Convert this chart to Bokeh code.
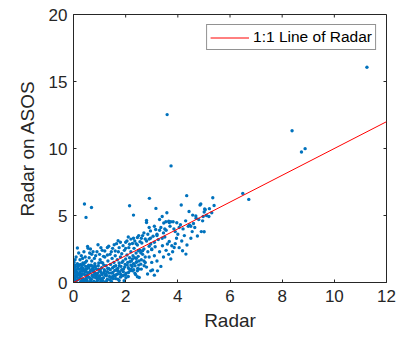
from bokeh.plotting import figure
from bokeh.models import LinearAxis, Label, Range1d
from bokeh.embed import file_html
from bokeh.resources import INLINE

# ---------------- data ----------------
radar = [
    # dense core near origin
    0.02, 0.03, 0.05, 0.02, 0.04, 0.03, 0.05, 0.02, 0.06, 0.08, 0.10, 0.12, 0.10, 0.15, 0.18, 0.20, 0.15, 0.22, 0.25, 0.28,
    0.30, 0.32, 0.35, 0.38, 0.40, 0.42, 0.45, 0.48, 0.50, 0.52, 0.55, 0.58, 0.60, 0.62, 0.65, 0.68, 0.70, 0.72, 0.75, 0.78,
    0.80, 0.82, 0.85, 0.88, 0.90, 0.92, 0.95, 0.98, 1.00, 1.02, 1.05, 1.08, 1.10, 1.12, 1.15, 1.18, 1.20, 1.22, 1.25, 1.28,
    1.30, 1.32, 1.35, 1.38, 1.40, 1.42, 1.45, 1.48, 1.50, 1.52, 1.55, 1.58, 1.60, 1.62, 1.65, 1.68, 1.70, 1.72, 1.75, 1.78,
    1.80, 1.82, 1.85, 1.88, 1.90, 1.92, 1.95, 1.98, 2.00, 2.02, 2.05, 2.08, 2.10, 2.12, 2.15, 2.18, 2.20, 2.22, 2.25, 2.28,
    2.30, 2.32, 2.35, 2.38, 2.40, 2.42, 2.45, 2.48, 2.50, 2.55, 2.60, 2.62, 2.65, 2.70, 2.75, 2.80, 2.85, 2.90, 2.95, 3.00,
    0.07, 0.13, 0.17, 0.23, 0.27, 0.33, 0.37, 0.43, 0.47, 0.53, 0.57, 0.63, 0.67, 0.73, 0.77, 0.83, 0.87, 0.93, 0.97, 1.03,
    0.04, 0.09, 0.14, 0.19, 0.24, 0.29, 0.34, 0.39, 0.44, 0.49, 0.54, 0.59, 0.64, 0.69, 0.74, 0.79, 0.84, 0.89, 1.07, 1.17,
    0.06, 0.11, 0.16, 0.21, 0.26, 0.31, 0.36, 0.41, 0.46, 0.51, 0.56, 0.61, 0.66, 0.71, 0.76, 0.81, 0.86, 0.91, 0.96, 1.01,
    1.06, 1.11, 1.16, 1.21, 1.26, 1.31, 1.36, 1.41, 1.46, 1.51, 1.56, 1.61, 1.66, 1.71, 1.76, 1.81, 1.86, 1.91, 1.96, 2.01,
    2.06, 2.11, 2.16, 2.21, 2.26, 2.31, 2.36, 2.41, 2.46, 2.51,
    # above-line band
    0.10, 0.20, 0.25, 0.35, 0.40, 0.50, 0.60, 0.65, 0.70, 0.80, 0.90, 1.00, 1.05, 1.15, 1.20, 1.30, 1.35, 1.45, 1.50, 1.60,
    1.65, 1.75, 1.80, 1.90, 2.00, 2.05, 2.15, 2.30, 2.40, 2.55, 2.65, 2.75, 2.85, 2.95, 3.05, 3.15, 3.25, 3.35, 3.45, 3.55,
    3.70, 3.85, 4.05, 4.30, 4.45, 4.65, 4.70, 4.95, 5.10, 5.30, 4.25, 4.55, 3.95,
    # above-line spread
    0.15, 0.30, 0.45, 0.54, 0.56, 0.62, 0.75, 0.85, 0.94, 1.10, 1.30, 1.56, 1.71, 2.20, 2.26, 2.00, 2.10, 2.35, 2.45, 2.50,
    2.60, 2.70, 2.80, 2.90, 2.90, 2.96, 3.00, 3.13, 3.20, 3.30, 3.41, 3.50, 3.60, 3.67, 3.67, 3.77, 3.86, 3.90, 4.00, 4.18,
    4.31, 3.73, 4.75, 5.01, 4.90, 4.20, 4.40, 4.60, 4.80, 3.40, 3.10, 3.30, 3.10, 3.50, 3.20, 4.50,
    # below-line spread
    0.50, 0.80, 1.05, 1.30, 1.50, 1.69, 1.94, 2.13, 2.26, 2.45, 2.45, 2.52, 2.52, 2.58, 2.58, 2.49, 2.65, 2.71, 2.75, 2.84,
    2.96, 3.03, 3.22, 1.10, 1.40, 1.60, 1.80, 2.00, 1.20, 0.90, 1.75,
    1.00, 1.25, 1.45, 1.55, 1.70, 1.85, 1.95, 2.10, 2.20, 2.35, 2.40, 2.60, 2.70, 2.80, 2.90, 3.00, 3.10, 3.20, 3.30, 3.45,
    3.55, 3.65, 3.80, 3.90, 4.05, 4.15, 4.35, 4.50, 3.35, 3.10,
    # upper outliers
    0.42, 0.48, 0.69, 2.15, 2.30, 2.91, 3.16, 4.34, 4.13, 4.85, 4.43, 4.57, 4.69, 3.58, 3.40, 2.80, 3.65, 3.73, 3.54, 3.82,
    3.96, 3.46, 4.10, 5.03, 5.34, 6.49, 6.72, 5.39, 4.88, 5.21, 5.05, 5.01, 5.19, 4.97, 3.59, 3.74, 8.38, 8.74, 8.88, 11.25,
]
radar_on_asos = [
    0.10, 0.30, 0.50, 0.70, 0.90, 1.10, 1.30, 1.50, 1.70, 1.20, 0.80, 0.40, 0.05, 0.20, 0.60, 1.00, 1.40, 0.30, 0.80, 0.10,
    0.50, 1.20, 0.25, 0.90, 0.05, 0.60, 1.50, 0.30, 1.00, 0.15, 0.70, 1.30, 0.40, 0.05, 0.90, 0.25, 1.60, 0.55, 1.10, 0.10,
    0.75, 1.40, 0.35, 1.00, 0.60, 0.15, 1.25, 0.45, 0.85, 1.70, 0.20, 1.10, 0.60, 1.45, 0.35, 0.95, 1.90, 0.55, 1.25, 0.15,
    0.80, 1.60, 1.05, 0.45, 2.10, 1.35, 0.70, 1.80, 1.10, 0.30, 1.50, 0.90, 2.00, 1.25, 0.60, 1.70, 1.05, 2.30, 1.45, 0.80,
    1.90, 1.20, 2.15, 0.50, 1.60, 1.00, 2.40, 1.35, 1.75, 0.70, 2.05, 1.50, 1.10, 2.60, 1.85, 0.90, 2.30, 1.60, 1.20, 2.00,
    1.40, 2.55, 1.85, 0.60, 2.20, 1.55, 2.80, 1.95, 1.30, 2.40, 1.70, 2.95, 2.10, 2.50, 1.90, 3.10, 2.30, 2.70, 3.30, 2.45,
    0.85, 0.45, 1.15, 0.65, 1.35, 0.15, 1.05, 0.80, 1.20, 0.40, 1.10, 0.75, 1.30, 0.50, 0.95, 1.15, 0.50, 0.70, 1.45, 0.95,
    0.40, 0.95, 0.75, 1.25, 0.55, 1.05, 0.65, 1.35, 0.20, 0.80, 0.45, 1.10, 0.30, 1.25, 0.85, 0.55, 1.20, 0.35, 1.50, 0.75,
    0.20, 0.60, 1.00, 1.30, 0.45, 0.85, 1.45, 0.20, 0.95, 0.55, 1.20, 0.75, 0.10, 1.00, 0.40, 1.25, 0.65, 0.30, 1.00, 0.50,
    0.75, 0.15, 1.30, 0.85, 0.50, 1.05, 0.70, 0.95, 0.35, 0.75, 1.20, 0.30, 1.00, 0.65, 1.25, 0.60, 1.50, 0.80, 1.15, 0.35,
    1.30, 0.75, 1.55, 1.00, 1.75, 0.95, 1.25, 1.80, 1.05, 1.60,
    1.90, 2.20, 1.70, 1.80, 2.30, 1.60, 1.85, 2.50, 2.10, 1.80, 2.30, 2.10, 2.60, 1.95, 2.35, 2.05, 2.70, 2.30, 2.55, 2.35,
    2.90, 2.60, 3.00, 2.75, 2.55, 3.10, 2.85, 3.30, 2.90, 3.05, 3.50, 3.25, 3.60, 3.85, 3.45, 3.95, 3.20, 4.10, 3.70, 3.90,
    4.20, 4.00, 4.10, 4.60, 4.30, 4.10, 4.80, 4.60, 5.00, 5.20, 3.50, 3.80, 3.30,
    2.57, 2.00, 1.90, 2.69, 2.55, 2.20, 2.30, 2.00, 2.82, 2.40, 2.61, 2.82, 3.12, 3.24, 2.91, 3.00, 3.40, 3.10, 3.36, 3.50,
    3.30, 3.70, 4.48, 4.11, 3.24, 2.87, 2.50, 2.67, 3.60, 3.90, 2.74, 3.40, 2.87, 3.06, 4.48, 2.74, 2.61, 3.80, 3.60, 2.37,
    2.12, 1.75, 3.47, 3.79, 3.80, 4.00, 4.20, 4.40, 4.70, 3.30, 3.00, 4.70, 4.20, 4.00, 3.50, 4.20,
    0.02, 0.05, 0.10, 0.25, 0.45, 0.87, 0.13, 1.00, 0.87, 0.87, 0.43, 0.37, 1.00, 1.37, 2.22, 2.37, 2.37, 1.25, 1.49, 0.63,
    0.87, 0.93, 0.87, 0.30, 0.20, 0.50, 0.40, 0.60, 0.05, 0.02, 0.15,
    0.30, 0.60, 0.10, 0.55, 0.25, 0.95, 0.55, 0.45, 1.30, 0.70, 1.50, 1.00, 1.60, 1.15, 1.90, 1.50, 2.00, 1.60, 2.30, 1.90,
    2.40, 2.10, 2.30, 2.90, 2.60, 3.10, 2.80, 3.30, 1.20, 0.55,
    5.86, 4.86, 5.60, 5.73, 5.03, 6.28, 5.53, 6.48, 5.78, 5.78, 5.30, 5.03, 4.96, 5.21, 4.93, 4.63, 4.57, 4.53, 4.53, 4.53,
    4.46, 4.44, 4.31, 5.48, 6.33, 6.65, 6.20, 5.75, 5.86, 5.51, 5.43, 5.26, 4.93, 4.93, 12.53, 8.70, 11.33, 9.74, 9.99, 16.06,
]
line_x = [0, 12]
line_y = [0, 12]
x_ticks = [0, 2, 4, 6, 8, 10, 12]
y_ticks = [0, 5, 10, 15, 20]
x_label = "Radar"
y_label = "Radar on ASOS"
legend_text = "1:1 Line of Radar"

FONT = "Liberation Sans"
TXT = "#262626"
RED = "#FF0000"
X0, X1, Y0, Y1 = 0, 12, 0, 20

p = figure(width=403, height=338, output_backend="svg", toolbar_location=None,
           x_range=Range1d(X0, X1), y_range=Range1d(Y0, Y1),
           min_border_left=73, min_border_right=17, min_border_top=14, min_border_bottom=56,
           x_axis_location=None, y_axis_location=None)
p.grid.visible = False
p.outline_line_color = TXT
p.outline_line_width = 1
p.background_fill_color = "white"
p.border_fill_color = "white"


def make_axis(ticks, label_text, label_standoff, title_standoff):
    ax = LinearAxis(ticker=ticks)
    ax.axis_line_color = TXT
    ax.axis_line_width = 1
    ax.major_tick_line_color = TXT
    ax.major_tick_in = 3
    ax.major_tick_out = 0
    ax.minor_tick_line_color = None
    ax.major_label_text_font = FONT
    ax.major_label_text_font_size = "17px"
    ax.major_label_text_color = TXT
    ax.major_label_standoff = label_standoff
    ax.axis_label = label_text
    ax.axis_label_text_font = FONT
    ax.axis_label_text_font_size = "19px"
    ax.axis_label_text_font_style = "normal"
    ax.axis_label_text_color = TXT
    ax.axis_label_standoff = title_standoff
    return ax


p.add_layout(make_axis(x_ticks, x_label, 7, 5), "below")
p.add_layout(make_axis(y_ticks, y_label, 6, 8), "left")

# inward ticks on the top and right edges of the box (MATLAB "box on")
tick_len_y = 3 * (Y1 - Y0) / 268
tick_len_x = 3 * (X1 - X0) / 313
p.segment(x0=x_ticks, y0=[Y1] * len(x_ticks), x1=x_ticks, y1=[Y1 - tick_len_y] * len(x_ticks),
          line_color=TXT, line_width=1)
p.segment(x0=[X1] * len(y_ticks), y0=y_ticks, x1=[X1 - tick_len_x] * len(y_ticks), y1=y_ticks,
          line_color=TXT, line_width=1)

p.scatter(radar, radar_on_asos, size=3.4, fill_color="#0072BD", line_color=None)
p.line(line_x, line_y, line_color=RED, line_width=1, legend_label=legend_text)

lg = p.legend[0]
lg.location = "top_right"
lg.margin = 10
lg.padding = 3
lg.spacing = 0
lg.glyph_width = 39
lg.glyph_height = 17
lg.label_height = 17
lg.label_standoff = 4
lg.label_text_font = FONT
lg.label_text_font_size = "15.5px"
lg.label_text_color = "black"
lg.border_line_color = TXT
lg.border_line_width = 1
lg.background_fill_color = "white"
lg.background_fill_alpha = 1

# cut-off tick label of a neighbouring panel at the left edge
p.add_layout(Label(x=-2.77, y=-1.18, text="0", text_font=FONT, text_font_size="17px",
                   text_color=TXT, text_align="center", text_baseline="middle"))

open("out.html", "w").write(file_html(p, INLINE))
